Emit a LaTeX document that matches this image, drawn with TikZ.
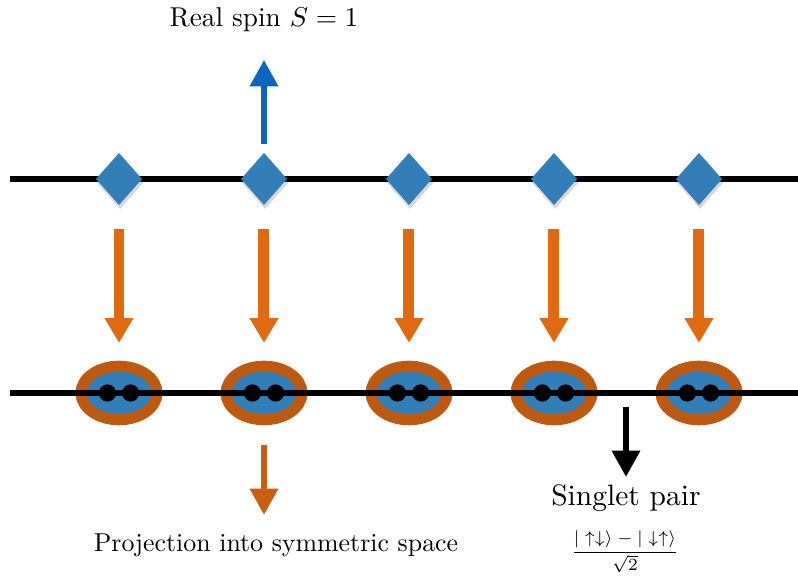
\documentclass[tikz,border=0pt]{standalone}
\usepackage{amsmath,amssymb}
\usepackage{graphicx}
\usepackage{tikz}
\usetikzlibrary{arrows.meta,positioning,shapes.geometric,shadows}
\definecolor{spinblue}{RGB}{50,126,184}
\definecolor{arrowblue}{RGB}{10,100,192}
\definecolor{projorange}{RGB}{224,106,16}
\definecolor{ringorange}{RGB}{190,90,15}
\definecolor{downorange}{RGB}{200,95,16}

\begin{document}
\begin{tikzpicture}[>=Latex,
  site/.style={diamond,fill=spinblue,minimum width=0.575cm,minimum height=0.65cm,inner sep=0pt,outer sep=0pt,
    drop shadow={opacity=0.3,shadow xshift=0.4pt,shadow yshift=-1.4pt}},
  pair/.style={ellipse,draw=ringorange,fill=spinblue,line width=0.1375cm,minimum width=0.95cm,minimum height=0.67cm,
    inner sep=0pt,outer sep=0pt,drop shadow={opacity=0.3,shadow xshift=0.4pt,shadow yshift=-1.6pt}},
  dot/.style={circle,fill=black,minimum size=0.215cm,inner sep=0pt},
  chain/.style={line width=2.1pt},
  projarrow/.style={projorange,line width=0.1375cm,-{Triangle[width=0.34cm,length=0.31cm]}},
  thinarrow/.style={line width=0.075cm,-{Triangle[width=0.34cm,length=0.33cm]}}]
  \useasboundingbox (0,0) rectangle (9.975,7.2);

  % the spin-1 chain
  \coordinate (topL) at (0.13,4.9625);
  \coordinate (topR) at (9.975,4.9625);
  \draw[chain] (topL)--(topR);
  \foreach \i in {1,...,5} {
    \node[site] (s\i) at ({1.4875+1.8125*(\i-1)},4.9625) {};
    \node[pair] (p\i) at ({1.4875+1.8125*(\i-1)},2.2875) {};
    \draw[projarrow,shorten <=0.3cm,shorten >=0.29cm] (s\i.south)--(p\i.north);
  }

  % the chain of spin-1/2 pairs
  \coordinate (botL) at (0.13,2.2875);
  \coordinate (botR) at (9.975,2.2875);
  \draw[chain] (botL)--(botR);
  \foreach \i in {1,...,5} {
    \node[dot] (l\i) at ([xshift=-0.145cm]p\i.center) {};
    \node[dot] (r\i) at ([xshift=0.145cm]p\i.center) {};
  }

  \coordinate (spintip) at (3.3,6.45);
  \draw[thinarrow,arrowblue,shorten <=0.11cm] (s2.north)--(spintip);
  \node (realspin) at (3.3,6.95) {\scalebox{0.97}{Real spin $S=1$}};

  \coordinate (projtip) at (3.3,0.7625);
  \draw[thinarrow,downorange,shorten <=0.32cm] (p2.south)--(projtip);
  \node (projtext) at (3.45,0.3875) {\scalebox{0.92}{Projection into symmetric space}};

  \coordinate (singtop) at (7.825,2.1125);
  \coordinate (singtip) at (7.825,1.2375);
  \draw[thinarrow] (singtop)--(singtip);
  \node (singlet) at (7.825,0.975) {\scalebox{1.05}{Singlet pair}};
  \node (singletstate) at (7.8125,0.3) {\scriptsize\scalebox{0.87}{$\dfrac{|\uparrow\downarrow\rangle-|\downarrow\uparrow\rangle}{\sqrt{2}}$}};
\end{tikzpicture}
\end{document}
